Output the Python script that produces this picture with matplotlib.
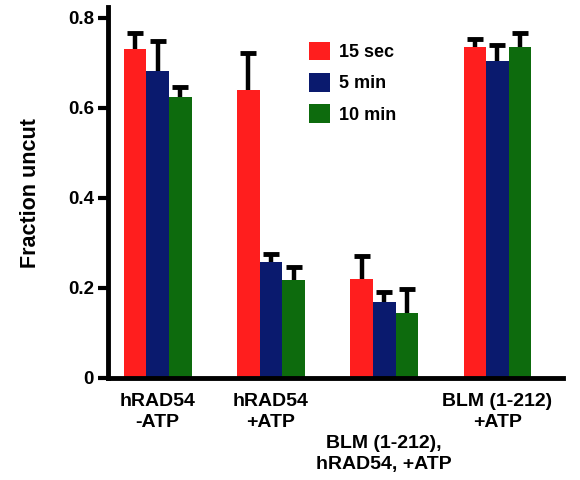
import numpy as np
import matplotlib
matplotlib.use("Agg")
import matplotlib.pyplot as plt

plt.rcParams['font.family'] = ['Liberation Sans', 'DejaVu Sans']
plt.rcParams['font.weight'] = 'bold'

groups = ['hRAD54\n-ATP', 'hRAD54\n+ATP', '\n\nBLM (1-212),\nhRAD54, +ATP', 'BLM (1-212)\n+ATP']
series = ['15 sec', '5 min', '10 min']
vals_15s = [0.731, 0.640, 0.220, 0.736]
vals_5m = [0.682, 0.258, 0.169, 0.704]
vals_10m = [0.624, 0.218, 0.144, 0.736]
err_15s = [0.036, 0.082, 0.051, 0.017]
err_5m = [0.067, 0.018, 0.022, 0.036]
err_10m = [0.023, 0.029, 0.054, 0.031]
colors = ['#FF1E1E', '#0A1A6E', '#0D6B0D']

fig = plt.figure(figsize=(5.8, 4.8), dpi=100)
ax = fig.add_axes([0.186, 0.2125, 0.785, 0.7725])

x = np.arange(len(groups))
w = 0.2
all_vals = [vals_15s, vals_5m, vals_10m]
all_errs = [err_15s, err_5m, err_10m]
for i in range(3):
    pos = x + (i - 1) * w
    ax.bar(pos, all_vals[i], w, color=colors[i], label=series[i],
           edgecolor='none', zorder=2)
    eb = ax.errorbar(pos, all_vals[i], yerr=[np.zeros(4), all_errs[i]], fmt='none',
                     ecolor='black', elinewidth=3.2, capsize=6, capthick=3.5, zorder=3)
    # only the upper cap is drawn in the original
    eb[1][0].set_visible(False)

ax.set_xlim(-0.44, 3.58)
ax.set_ylim(0, 0.824)
ax.set_yticks([0, 0.2, 0.4, 0.6, 0.8])
ax.set_yticklabels(['0', '0.2', '0.4', '0.6', '0.8'])
ax.set_xticks(x)
ax.set_xticklabels(groups, fontsize=14, fontweight='bold', linespacing=1.3)
ax.tick_params(axis='x', length=0, pad=11)
ax.tick_params(axis='y', length=7, width=3, labelsize=13.5, pad=3)
for s in ['top', 'right']:
    ax.spines[s].set_visible(False)
for s in ['left', 'bottom']:
    ax.spines[s].set_linewidth(3.5)
ax.set_ylabel('Fraction uncut', fontsize=15.5, fontweight='bold', labelpad=19)

ax.legend(loc='upper left', bbox_to_anchor=(0.405, 0.95), frameon=False,
          fontsize=13, handlelength=1.2, handleheight=1.2, handletextpad=0.5,
          labelspacing=0.65)

fig.savefig('out.png', dpi=100)
